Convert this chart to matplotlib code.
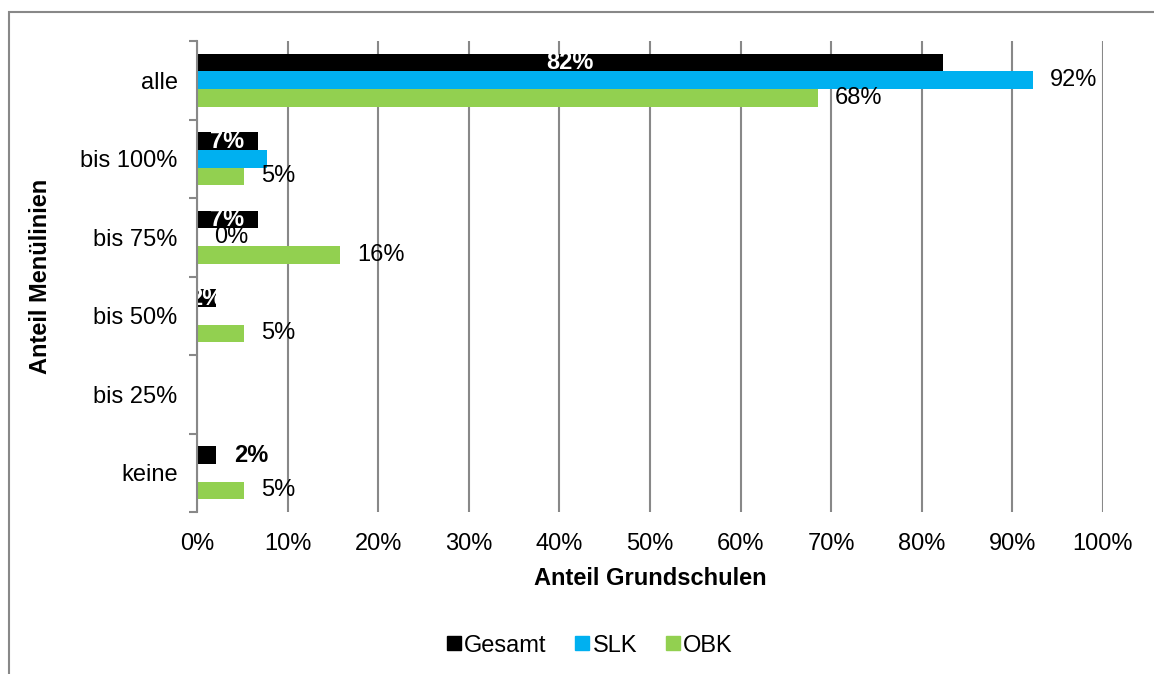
import matplotlib.pyplot as plt
import numpy as np
from matplotlib.lines import Line2D
from matplotlib.patches import Rectangle

plt.rcParams['font.family'] = ['Liberation Sans', 'DejaVu Sans']

# Shares per menu-line category
categories = ['alle', 'bis 100%', 'bis 75%', 'bis 50%', 'bis 25%', 'keine']
gesamt = [0.823, 0.067, 0.067, 0.021, 0.0, 0.021]
slk = [0.923, 0.077, 0.0, 0.0, 0.0, 0.0]
obk = [0.685, 0.052, 0.158, 0.052, 0.0, 0.052]

# which data labels are shown
gesamt_show = [True, True, True, True, False, True]
slk_show = [True, False, True, False, False, False]
obk_show = [True, True, True, True, False, True]

series_names = ['Gesamt', 'SLK', 'OBK']
colors = ['#000000', '#00B0F0', '#92D050']

fs = 17
fig = plt.figure(figsize=(11.54, 6.74), dpi=100)
ax = fig.add_axes([197 / 1154, 162 / 674, 906 / 1154, 471 / 674])

y = np.arange(len(categories))
h = 0.223
all_vals = [gesamt, slk, obk]
for i, vals in enumerate(all_vals):
    ax.barh(y + (i - 1) * h, vals, height=h, color=colors[i], zorder=1)

# Gesamt labels: white bold in the bar centre, black outside when the bar is tiny
for k, v in enumerate(gesamt):
    if not gesamt_show[k]:
        continue
    yy = y[k] - h
    if k == len(categories) - 1:
        ax.annotate(f'{v:.0%}', (v, yy), xytext=(13, 0), textcoords='offset points',
                    ha='left', va='center', fontsize=fs, fontweight='bold',
                    color='black', zorder=1.5)
    else:
        ax.text(v / 2, yy, f'{v:.0%}', ha='center', va='center', fontsize=fs,
                fontweight='bold', color='white', zorder=1.5)

for vals, show, off in [(slk, slk_show, 0), (obk, obk_show, h)]:
    for k, v in enumerate(vals):
        if show[k]:
            ax.annotate(f'{v:.0%}', (v, y[k] + off), xytext=(12, 0),
                        textcoords='offset points', ha='left', va='center',
                        fontsize=fs, color='black', zorder=1.5)

ax.set_xlim(0, 1)
ax.set_ylim(len(categories) - 0.5, -0.5)
ax.set_xticks(np.arange(0, 1.01, 0.1))
ax.set_xticklabels([f'{int(round(t * 100))}%' for t in np.arange(0, 1.01, 0.1)],
                   fontsize=fs)
ax.set_yticks(y)
ax.set_yticklabels(categories, fontsize=fs)
ax.set_yticks(np.arange(-0.5, len(categories), 1), minor=True)
ax.tick_params(axis='y', which='major', length=0, pad=14)
ax.tick_params(axis='y', which='minor', length=6, width=1.5, color='#888888')
ax.tick_params(axis='x', length=0, pad=15)
ax.grid(axis='x', color='#888888', linewidth=1.5, zorder=0)
ax.set_axisbelow(True)
for s in ['top', 'right', 'bottom']:
    ax.spines[s].set_visible(False)
ax.spines['left'].set_color('#888888')
ax.spines['left'].set_linewidth(1.5)
ax.spines['left'].set_zorder(3)

ax.set_xlabel('Anteil Grundschulen', fontsize=fs, fontweight='bold', labelpad=9)
ax.set_ylabel('Anteil Menülinien', fontsize=fs, fontweight='bold', labelpad=20)

handles = [Line2D([], [], linestyle='none', marker='s', markersize=9.5,
                  markerfacecolor=c, markeredgecolor=c) for c in colors]
fig.legend(handles, series_names, loc='center', bbox_to_anchor=(0.511, 0.042),
           ncol=3, frameon=False, fontsize=fs, handlelength=0.6,
           handletextpad=0.15, columnspacing=1.2)

# chart frame running off the right and bottom edges
fig.patches.append(Rectangle((8.5 / 1154, -0.1), 1.2, (674 - 11.5) / 674 + 0.1,
                             transform=fig.transFigure, fill=False,
                             edgecolor='#888888', linewidth=1.5))

fig.savefig('out.png', dpi=100)
